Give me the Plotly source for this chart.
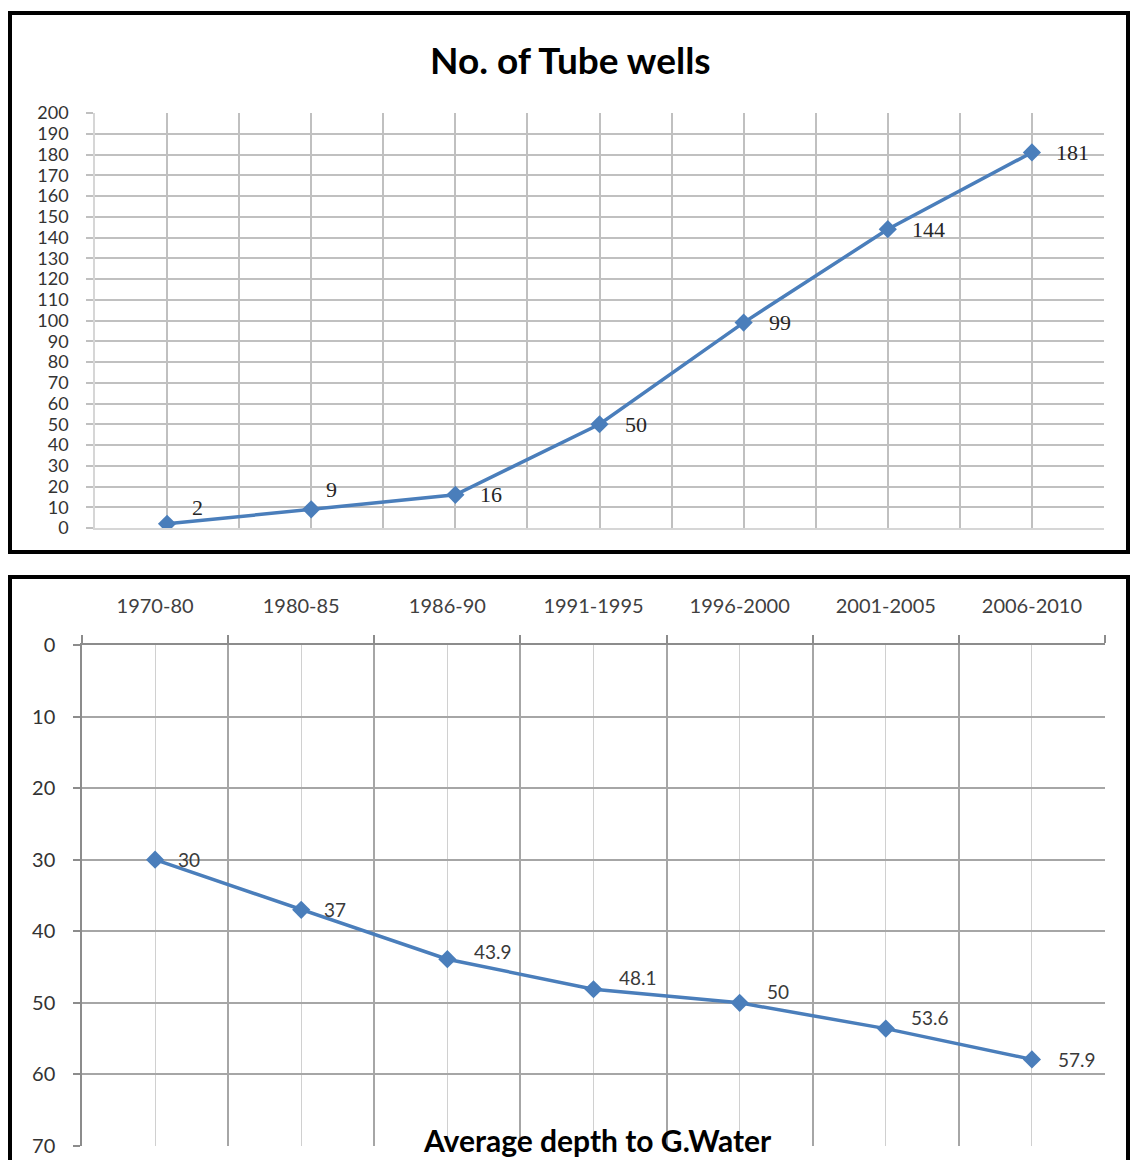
import plotly.graph_objects as go

# Data
periods = ["1970-80", "1980-85", "1986-90", "1991-1995", "1996-2000", "2001-2005", "2006-2010"]
tube_wells = [2, 9, 16, 50, 99, 144, 181]
avg_depth = [30, 37, 43.9, 48.1, 50, 53.6, 57.9]

W, H = 1131, 1160
LINE_BLUE = "#4a7ebb"
GRID = "#c0c0c0"
AXIS = "#8c8c8c"
SANS = "Lato, 'Open Sans', sans-serif"
SERIF = "'Liberation Serif', 'DejaVu Serif', serif"


def px_x(v):
    return v / W


def px_y(v):
    return 1 - v / H


# Per-point label offsets (pixels) for the data labels
tw_shift = [(23, 16), (13, 20), (23, 0), (23, 0), (23, 0), (22, 0), (22, 0)]
dp_shift = [(21, 0), (21, 0), (25, 8), (23, 12), (25, 11), (23, 11), (24, 0)]

xs = list(range(len(periods)))

fig = go.Figure()

fig.add_trace(go.Scatter(
    x=xs, y=tube_wells, mode="lines+markers",
    line=dict(color=LINE_BLUE, width=3.5),
    marker=dict(symbol="diamond", size=14, color=LINE_BLUE),
    xaxis="x", yaxis="y", showlegend=False, hoverinfo="skip",
))

fig.add_trace(go.Scatter(
    x=xs, y=avg_depth, mode="lines+markers",
    line=dict(color=LINE_BLUE, width=3.5),
    marker=dict(symbol="diamond", size=14, color=LINE_BLUE),
    xaxis="x2", yaxis="y2", showlegend=False, hoverinfo="skip",
))

annotations = []
for i, v in enumerate(tube_wells):
    dx, dy = tw_shift[i]
    annotations.append(dict(
        x=i, y=v, xref="x", yref="y", text=str(v), showarrow=False,
        xanchor="left", yanchor="middle", xshift=dx, yshift=dy,
        font=dict(family=SERIF, size=22, color="#262626"),
    ))
for i, v in enumerate(avg_depth):
    dx, dy = dp_shift[i]
    annotations.append(dict(
        x=i, y=v, xref="x2", yref="y2", text=str(v), showarrow=False,
        xanchor="left", yanchor="middle", xshift=dx, yshift=dy,
        font=dict(family=SANS, size=19, color="#3a3a3a"),
    ))

# Chart titles
annotations.append(dict(
    x=px_x(570), y=px_y(59), xref="paper", yref="paper",
    text="<b>No. of Tube wells</b>", showarrow=False,
    xanchor="center", yanchor="middle",
    font=dict(family=SANS, size=37, color="#000000"),
))
annotations.append(dict(
    x=px_x(597), y=px_y(1140), xref="paper", yref="paper",
    text="<b>Average depth to G.Water</b>", showarrow=False,
    xanchor="center", yanchor="middle",
    font=dict(family=SANS, size=30, color="#000000"),
))

# Black frames around each chart
shapes = [
    dict(type="rect", xref="paper", yref="paper",
         x0=px_x(10), x1=px_x(1128), y0=px_y(552), y1=px_y(13),
         line=dict(color="#000000", width=4), fillcolor="rgba(0,0,0,0)", layer="above"),
    dict(type="rect", xref="paper", yref="paper",
         x0=px_x(10), x1=px_x(1128), y0=px_y(1180), y1=px_y(577),
         line=dict(color="#000000", width=4), fillcolor="rgba(0,0,0,0)", layer="above"),
]

fig.update_layout(
    width=W, height=H,
    margin=dict(l=0, r=0, t=0, b=0, autoexpand=False),
    paper_bgcolor="white", plot_bgcolor="white",
    annotations=annotations, shapes=shapes,
    # top chart
    xaxis=dict(
        domain=[px_x(95), px_x(1104)], anchor="y",
        range=[-0.5, 6.5], tick0=-0.5, dtick=0.5,
        showticklabels=False, showgrid=True, gridcolor=GRID, gridwidth=1.5,
        zeroline=False, showline=True, linecolor="#d6d6d6", linewidth=1.5,
        ticks="", automargin=False,
    ),
    yaxis=dict(
        domain=[px_y(528), px_y(113)], anchor="x",
        range=[0, 200], dtick=10, tick0=0,
        showgrid=True, gridcolor=GRID, gridwidth=1.5,
        zeroline=False, showline=True, linecolor="#d6d6d6", linewidth=1.5,
        ticks="outside", ticklen=7, tickcolor=GRID, tickwidth=1.5,
        ticklabelstandoff=14, automargin=False,
        tickfont=dict(family=SANS, size=18, color="#333333"),
    ),
    # bottom chart
    xaxis2=dict(
        domain=[px_x(82), px_x(1105)], anchor="y2", side="top",
        range=[-0.5, 6.5], tickmode="array", tickvals=xs, ticktext=periods,
        ticks="", showgrid=True, gridcolor="#d0d0d0", gridwidth=1,
        zeroline=False, showline=True, linecolor=AXIS, linewidth=1.5,
        ticklabelstandoff=22, automargin=False,
        tickfont=dict(family=SANS, size=20, color="#404040"),
        minor=dict(tickmode="array", tickvals=[i - 0.5 for i in range(len(periods) + 1)],
                   ticks="outside", ticklen=8, tickcolor=AXIS, tickwidth=1.5,
                   showgrid=True, gridcolor="#a6a6a6", gridwidth=1.5),
    ),
    yaxis2=dict(
        domain=[px_y(1146), px_y(645)], anchor="x2",
        range=[70, 0], dtick=10, tick0=0,
        showgrid=True, gridcolor="#a6a6a6", gridwidth=1.5,
        zeroline=False, showline=True, linecolor=AXIS, linewidth=1.5,
        ticks="outside", ticklen=7, tickcolor=AXIS, tickwidth=1.5,
        ticklabelstandoff=14, automargin=False,
        tickfont=dict(family=SANS, size=20, color="#333333"),
    ),
)

fig.write_html("out.html")
